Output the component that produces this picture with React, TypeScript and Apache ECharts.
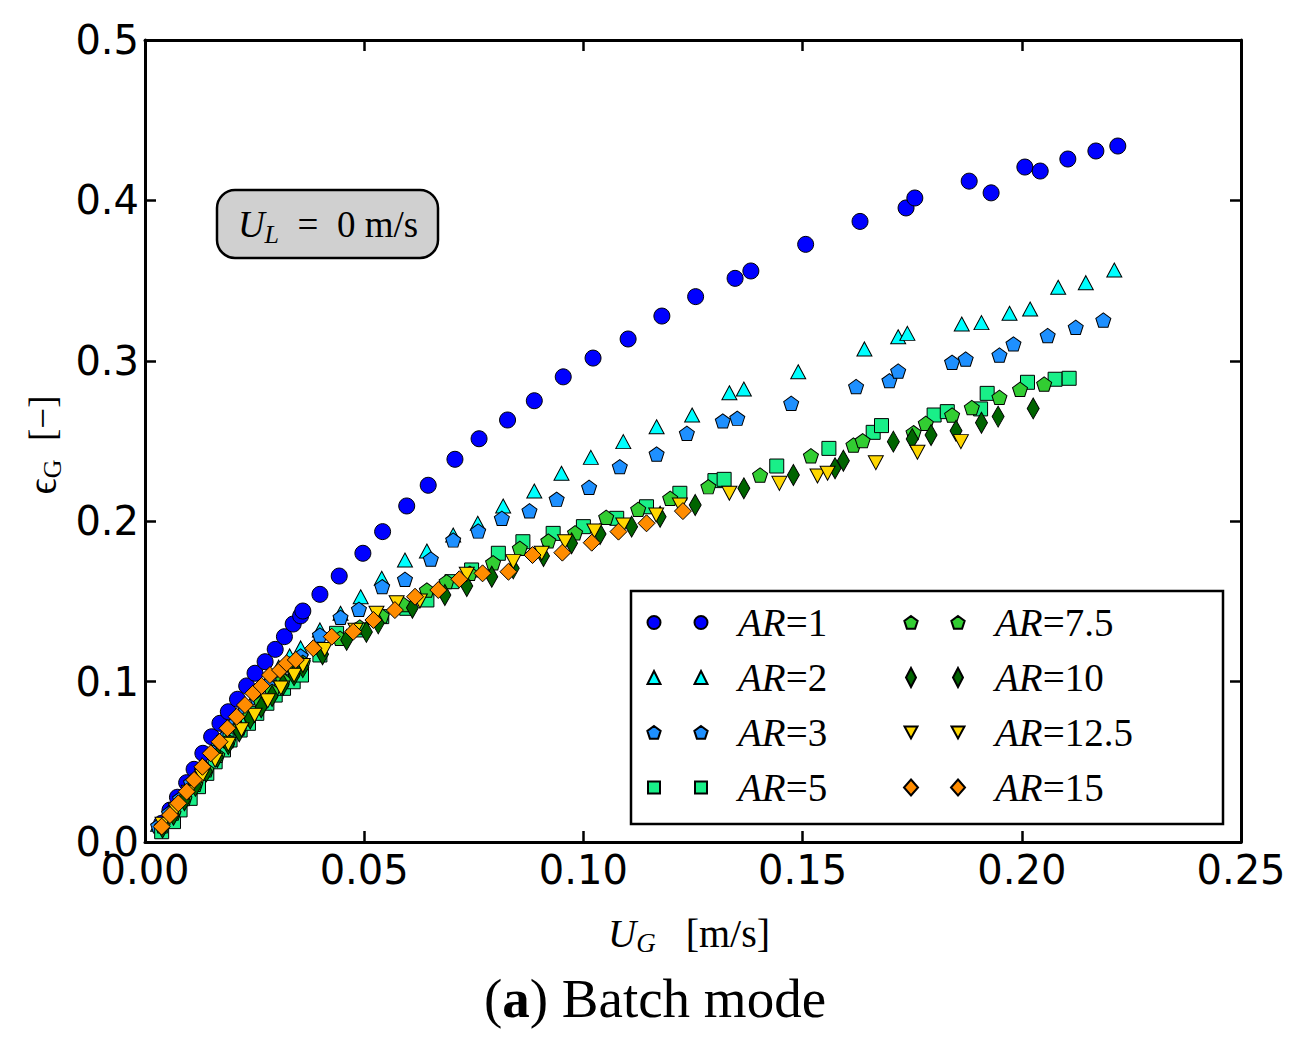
import React, { useEffect, useRef } from "react";
import * as echarts from "echarts";

// ---- data (U_G [m/s], eps_G [-]) ----
const ar1: [number, number][] = [
  [0.0038, 0.0117], [0.0057, 0.0199], [0.0074, 0.0279], [0.0095, 0.037], [0.0112, 0.0453],
  [0.0132, 0.0553], [0.0152, 0.0656], [0.0171, 0.074], [0.019, 0.0812], [0.0211, 0.089],
  [0.0232, 0.0973], [0.0251, 0.1052], [0.0274, 0.1124], [0.0297, 0.1201], [0.0318, 0.128],
  [0.0338, 0.1359], [0.0355, 0.141], [0.036, 0.144], [0.0399, 0.1544], [0.0443, 0.1658],
  [0.0497, 0.18], [0.0542, 0.1935], [0.0597, 0.2095], [0.0646, 0.2224], [0.0707, 0.2386],
  [0.0762, 0.2514], [0.0827, 0.2631], [0.0888, 0.2751], [0.0954, 0.29], [0.1022, 0.3017],
  [0.1102, 0.3136], [0.1179, 0.3279], [0.1256, 0.34], [0.1346, 0.3514], [0.1382, 0.356],
  [0.1507, 0.3726], [0.1631, 0.3869], [0.1736, 0.3953], [0.1756, 0.4015], [0.188, 0.412],
  [0.193, 0.4047], [0.2007, 0.4208], [0.2042, 0.4183], [0.2105, 0.4258], [0.2169, 0.4308],
  [0.2219, 0.4339],
];
const ar2: [number, number][] = [
  [0.003, 0.011], [0.0055, 0.019], [0.008, 0.028], [0.0105, 0.038], [0.013, 0.048],
  [0.0155, 0.058], [0.018, 0.067], [0.0205, 0.076], [0.023, 0.085], [0.0255, 0.093],
  [0.028, 0.101], [0.0305, 0.109], [0.033, 0.116], [0.0355, 0.121], [0.0399, 0.1322],
  [0.0446, 0.1426], [0.0492, 0.1529], [0.054, 0.1644], [0.0593, 0.1758], [0.0643, 0.1814],
  [0.0703, 0.1914], [0.0759, 0.1987], [0.0817, 0.2095], [0.0888, 0.2188], [0.095, 0.2299],
  [0.1017, 0.2398], [0.1091, 0.2496], [0.1167, 0.2589], [0.1248, 0.2662], [0.1333, 0.2801],
  [0.1366, 0.2824], [0.149, 0.2932], [0.1641, 0.3074], [0.1718, 0.315], [0.1739, 0.3171],
  [0.1863, 0.3229], [0.1908, 0.3238], [0.1972, 0.3296], [0.2019, 0.3323], [0.2083, 0.3458],
  [0.2146, 0.3487], [0.2211, 0.3566],
];
const ar3: [number, number][] = [
  [0.003, 0.01], [0.0055, 0.018], [0.008, 0.027], [0.0105, 0.037], [0.013, 0.046],
  [0.0155, 0.056], [0.018, 0.065], [0.0205, 0.074], [0.023, 0.082], [0.0255, 0.09],
  [0.028, 0.098], [0.0305, 0.105], [0.033, 0.111], [0.0355, 0.116], [0.0399, 0.129],
  [0.0446, 0.1401], [0.0488, 0.1451], [0.0541, 0.1592], [0.0593, 0.1638], [0.0652, 0.1764],
  [0.0703, 0.1883], [0.076, 0.1939], [0.0814, 0.2018], [0.0877, 0.2065], [0.0939, 0.2137],
  [0.1013, 0.2211], [0.1083, 0.234], [0.1167, 0.2419], [0.1236, 0.2548], [0.1318, 0.2625],
  [0.1351, 0.2642], [0.1474, 0.2735], [0.1622, 0.2839], [0.1698, 0.2876], [0.1718, 0.2936],
  [0.1841, 0.2991], [0.1872, 0.3011], [0.1949, 0.3036], [0.1981, 0.3105], [0.2059, 0.3157],
  [0.2123, 0.3209], [0.2186, 0.3254],
];
const ar5: [number, number][] = [
  [0.0038, 0.0064], [0.0065, 0.0127], [0.008, 0.02], [0.0103, 0.0272], [0.0122, 0.0345],
  [0.0141, 0.0428], [0.016, 0.05], [0.0179, 0.0574], [0.0194, 0.0636], [0.0217, 0.0698],
  [0.0236, 0.074], [0.0255, 0.0802], [0.0278, 0.0865], [0.0297, 0.0916], [0.0316, 0.0958],
  [0.0338, 0.0999], [0.0357, 0.1041], [0.0399, 0.1166], [0.0437, 0.1301], [0.0494, 0.1322],
  [0.054, 0.1405], [0.0597, 0.1457], [0.0643, 0.1509], [0.07, 0.1623], [0.0745, 0.1696],
  [0.0806, 0.18], [0.0862, 0.1872], [0.0931, 0.1924], [0.1, 0.1966], [0.1076, 0.2018],
  [0.1144, 0.209], [0.122, 0.2174], [0.13, 0.2253], [0.1321, 0.2261], [0.1441, 0.2344],
  [0.156, 0.2454], [0.1661, 0.2554], [0.168, 0.2596], [0.18, 0.2662], [0.183, 0.2683],
  [0.1906, 0.27], [0.1921, 0.2797], [0.2013, 0.2866], [0.2076, 0.2885], [0.2108, 0.2891],
];
const ar75: [number, number][] = [
  [0.004, 0.01], [0.0065, 0.018], [0.009, 0.027], [0.0115, 0.036], [0.014, 0.045],
  [0.0165, 0.054], [0.019, 0.063], [0.0215, 0.071], [0.024, 0.079], [0.0265, 0.087],
  [0.029, 0.094], [0.0315, 0.101], [0.034, 0.107], [0.036, 0.112], [0.0445, 0.127],
  [0.049, 0.134], [0.054, 0.141], [0.059, 0.148], [0.0643, 0.1571], [0.0688, 0.1623],
  [0.0741, 0.1675], [0.0794, 0.1741], [0.0855, 0.1831], [0.092, 0.1877], [0.0981, 0.1928],
  [0.1052, 0.2024], [0.1125, 0.2074], [0.1198, 0.2143], [0.1285, 0.2215], [0.1403, 0.2288],
  [0.1519, 0.2408], [0.1616, 0.2475], [0.1637, 0.2502], [0.1753, 0.2552], [0.1781, 0.261],
  [0.1841, 0.2662], [0.1886, 0.2708], [0.1949, 0.2772], [0.1996, 0.2822], [0.2051, 0.2855],
];
const ar10: [number, number][] = [
  [0.004, 0.009], [0.0065, 0.017], [0.009, 0.026], [0.0115, 0.035], [0.014, 0.044],
  [0.0165, 0.053], [0.019, 0.061], [0.0215, 0.069], [0.024, 0.077], [0.0265, 0.084],
  [0.029, 0.091], [0.0315, 0.098], [0.034, 0.104], [0.036, 0.109], [0.0405, 0.117],
  [0.046, 0.126], [0.0505, 0.131], [0.0532, 0.1363], [0.061, 0.146], [0.0684, 0.154],
  [0.0734, 0.1596], [0.0791, 0.1654], [0.084, 0.1706], [0.0909, 0.1783], [0.0973, 0.1862],
  [0.1038, 0.192], [0.111, 0.1966], [0.1175, 0.2028], [0.1255, 0.2101], [0.1366, 0.2205],
  [0.1479, 0.2288], [0.1574, 0.233], [0.1593, 0.2377], [0.1707, 0.2496], [0.175, 0.2512],
  [0.1793, 0.2537], [0.185, 0.2564], [0.1908, 0.2614], [0.1946, 0.2652], [0.2026, 0.2703],
];
const ar125: [number, number][] = [
  [0.004, 0.011], [0.007, 0.02], [0.01, 0.031], [0.013, 0.041], [0.016, 0.051],
  [0.019, 0.061], [0.022, 0.07], [0.025, 0.079], [0.028, 0.088], [0.031, 0.096],
  [0.034, 0.104], [0.036, 0.11], [0.041, 0.12], [0.048, 0.132], [0.0528, 0.1426],
  [0.0574, 0.1492], [0.0627, 0.1502], [0.0734, 0.1669], [0.084, 0.1748], [0.0905, 0.18],
  [0.0958, 0.1872], [0.1025, 0.1939], [0.1091, 0.1976], [0.1166, 0.2039], [0.122, 0.2101],
  [0.1333, 0.2174], [0.1447, 0.2236], [0.1534, 0.2282], [0.1557, 0.2299], [0.1667, 0.2365],
  [0.1762, 0.243], [0.1861, 0.2496],
];
const ar15: [number, number][] = [
  [0.0038, 0.0096], [0.0057, 0.0168], [0.0076, 0.0241], [0.0095, 0.0314], [0.0112, 0.0387],
  [0.0131, 0.0469], [0.015, 0.0553], [0.017, 0.0625], [0.0188, 0.0709], [0.0209, 0.0781],
  [0.0228, 0.0854], [0.0247, 0.0927], [0.0266, 0.0973], [0.0285, 0.1041], [0.0308, 0.1072],
  [0.0323, 0.1114], [0.0344, 0.1135], [0.0384, 0.1208], [0.0426, 0.128], [0.0475, 0.1311],
  [0.0521, 0.1384], [0.057, 0.1446], [0.0616, 0.1529], [0.0669, 0.1571], [0.0717, 0.1638],
  [0.077, 0.1675], [0.0829, 0.1685], [0.0884, 0.1789], [0.0952, 0.1804], [0.1019, 0.1866],
  [0.108, 0.1935], [0.1144, 0.1987], [0.1227, 0.2063],
];

const seriesNames = ["AR=1", "AR=2", "AR=3", "AR=5", "AR=7.5", "AR=10", "AR=12.5", "AR=15"];
const xTicks = { min: 0, max: 0.25, step: 0.05 };
const yTicks = { min: 0, max: 0.5, step: 0.1 };

// ---- styling ----
const colors = ["#0000ff", "#00ffff", "#1e90ff", "#19ef88", "#32cd32", "#006400", "#ffd700", "#ff8c00"];
const pentagon = "path://M0,-1 L0.951,-0.309 L0.588,0.809 L-0.588,0.809 L-0.951,-0.309 Z";
const symbols: any[] = [
  { symbol: "circle", size: 16, rotate: 0 },
  { symbol: "triangle", size: [15, 14], rotate: 0 },
  { symbol: pentagon, size: [15, 14.3], rotate: 0 },
  { symbol: "rect", size: 14, rotate: 0 },
  { symbol: pentagon, size: [15, 14.3], rotate: 0 },
  { symbol: "diamond", size: [12, 21], rotate: 0 },
  { symbol: "triangle", size: [15, 14], rotate: 180 },
  { symbol: "diamond", size: [17, 17], rotate: 0 },
];
const box = "M0,0 L0.001,0 M61,20 L60.999,20 ";
const legendIcons = [
  "path://" + box + "M0.5,10 A6.5,6.5 0 1,1 13.5,10 A6.5,6.5 0 1,1 0.5,10 Z M47.5,10 A6.5,6.5 0 1,1 60.5,10 A6.5,6.5 0 1,1 47.5,10 Z",
  "path://" + box + "M7,3.5 L13.5,16.5 L0.5,16.5 Z M54,3.5 L60.5,16.5 L47.5,16.5 Z",
  "path://" + box + "M7,3.5 L13.66,8.34 L11.11,16.16 L2.89,16.16 L0.34,8.34 Z M54,3.5 L60.66,8.34 L58.11,16.16 L49.89,16.16 L47.34,8.34 Z",
  "path://" + box + "M1,4 L13,4 L13,16 L1,16 Z M48,4 L60,4 L60,16 L48,16 Z",
  "path://" + box + "M7,3.5 L13.66,8.34 L11.11,16.16 L2.89,16.16 L0.34,8.34 Z M54,3.5 L60.66,8.34 L58.11,16.16 L49.89,16.16 L47.34,8.34 Z",
  "path://" + box + "M7,0.5 L12,10 L7,19.5 L2,10 Z M54,0.5 L59,10 L54,19.5 L49,10 Z",
  "path://" + box + "M0.5,4 L13.5,4 L7,16 Z M47.5,4 L60.5,4 L54,16 Z",
  "path://" + box + "M7,2 L14,10 L7,18 L0,10 Z M54,2 L61,10 L54,18 L47,10 Z",
];

const allData = [ar1, ar2, ar3, ar5, ar75, ar10, ar125, ar15];

const serif = "'Liberation Serif', 'DejaVu Serif', serif";
const sans = "'DejaVu Sans', sans-serif";

function legendCfg(idx: number[], left: number): any {
  return {
    orient: "vertical",
    left,
    top: 603,
    padding: 0,
    itemGap: 16,
    itemWidth: 61,
    itemHeight: 20,
    symbolKeepAspect: true,
    selectedMode: false,
    data: idx.map((i) => ({ name: seriesNames[i], icon: legendIcons[i] })),
    formatter: (name: string) => `{sp|}{i|AR}{n|=${name.split("=")[1]}}`,
    textStyle: {
      color: "#000",
      rich: {
        sp: { width: 25, lineHeight: 40 },
        i: { fontFamily: serif, fontStyle: "italic", fontSize: 39, lineHeight: 40, color: "#000" },
        n: { fontFamily: serif, fontSize: 39, lineHeight: 40, color: "#000" },
      },
    },
  };
}

function axisCommon(): any {
  return {
    type: "value",
    axisLine: { show: true, onZero: false, lineStyle: { color: "#000", width: 3 } },
    axisTick: { show: true, inside: true, length: 11, lineStyle: { color: "#000", width: 2.5 } },
    splitLine: { show: false },
  };
}

function buildOption(): any {
  const lbl = { fontSize: 40, lineHeight: 28, color: "#000", fontFamily: sans };
  const mathMain = { fontFamily: serif, fontSize: 37, lineHeight: 46, color: "#000" };
  const mathSub = { fontFamily: serif, fontSize: 26, lineHeight: 26, verticalAlign: "bottom", color: "#000" };
  return {
    animation: false,
    backgroundColor: "#fff",
    grid: { left: 145, right: 59, top: 40, bottom: 211, containLabel: false },
    xAxis: [
      {
        ...axisCommon(),
        position: "bottom",
        min: xTicks.min,
        max: xTicks.max,
        interval: xTicks.step,
        axisLabel: { ...lbl, margin: 14, formatter: (v: number) => v.toFixed(2) },
      },
      {
        ...axisCommon(),
        position: "top",
        min: xTicks.min,
        max: xTicks.max,
        interval: xTicks.step,
        axisLabel: { show: false },
      },
    ],
    yAxis: [
      {
        ...axisCommon(),
        position: "left",
        min: yTicks.min,
        max: yTicks.max,
        interval: yTicks.step,
        axisLabel: { ...lbl, margin: 6, formatter: (v: number) => v.toFixed(1) },
      },
      {
        ...axisCommon(),
        position: "right",
        min: yTicks.min,
        max: yTicks.max,
        interval: yTicks.step,
        axisLabel: { show: false },
      },
    ],
    legend: [legendCfg([0, 1, 2, 3], 646), legendCfg([4, 5, 6, 7], 903)],
    series: allData.map((d, i) => ({
      type: "scatter",
      name: seriesNames[i],
      xAxisIndex: 0,
      yAxisIndex: 0,
      data: d,
      symbol: symbols[i].symbol,
      symbolSize: symbols[i].size,
      symbolRotate: symbols[i].rotate,
      itemStyle: { color: colors[i], borderColor: "#000", borderWidth: 1, opacity: 1 },
      emphasis: { disabled: true },
      z: 2,
    })),
    graphic: [
      {
        type: "rect",
        z: 3,
        shape: { x: 631, y: 591, width: 592, height: 233 },
        style: { fill: "#fff", stroke: "#000", lineWidth: 2.5 },
      },
      {
        type: "rect",
        z: 3,
        shape: { x: 217, y: 190, width: 221, height: 68, r: 18 },
        style: { fill: "#d0d0d0", stroke: "#000", lineWidth: 2.5 },
      },
      {
        type: "text",
        z: 4,
        x: 328,
        y: 224,
        style: {
          text: "{u|U}{s|L}{t|  =  0 m/s}",
          align: "center",
          verticalAlign: "middle",
          rich: {
            u: { ...mathMain, fontStyle: "italic" },
            s: { ...mathSub, fontStyle: "italic" },
            t: { ...mathMain },
          },
        },
      },
      {
        type: "text",
        z: 4,
        x: 689,
        y: 933,
        style: {
          text: "{u|U}{s|G}{t|   [m/s]}",
          align: "center",
          verticalAlign: "middle",
          rich: {
            u: { ...mathMain, fontSize: 39, fontStyle: "italic" },
            s: { ...mathSub, fontSize: 27, fontStyle: "italic" },
            t: { ...mathMain, fontSize: 40 },
          },
        },
      },
      {
        type: "text",
        z: 4,
        x: 42,
        y: 445,
        rotation: Math.PI / 2,
        style: {
          text: "{u|ϵ}{s|G}{t|  [−]}",
          align: "center",
          verticalAlign: "middle",
          rich: {
            u: { ...mathMain, fontSize: 40 },
            s: { ...mathSub },
            t: { ...mathMain },
          },
        },
      },
      {
        type: "text",
        z: 4,
        x: 655,
        y: 998,
        style: {
          text: "{p|(}{b|a}{p|) Batch mode}",
          align: "center",
          verticalAlign: "middle",
          rich: {
            p: { fontFamily: serif, fontSize: 55, color: "#000" },
            b: { fontFamily: serif, fontSize: 55, fontWeight: "bold", color: "#000" },
          },
        },
      },
    ],
  };
}

export default function App() {
  const ref = useRef<HTMLDivElement>(null);
  useEffect(() => {
    if (!ref.current) return;
    const chart = echarts.init(ref.current, null, { renderer: "svg" });
    chart.setOption(buildOption());
    return () => chart.dispose();
  }, []);
  return (
    <div
      ref={ref}
      style={{ position: "fixed", left: 0, top: 0, width: 1300, height: 1053, background: "#fff" }}
    />
  );
}
